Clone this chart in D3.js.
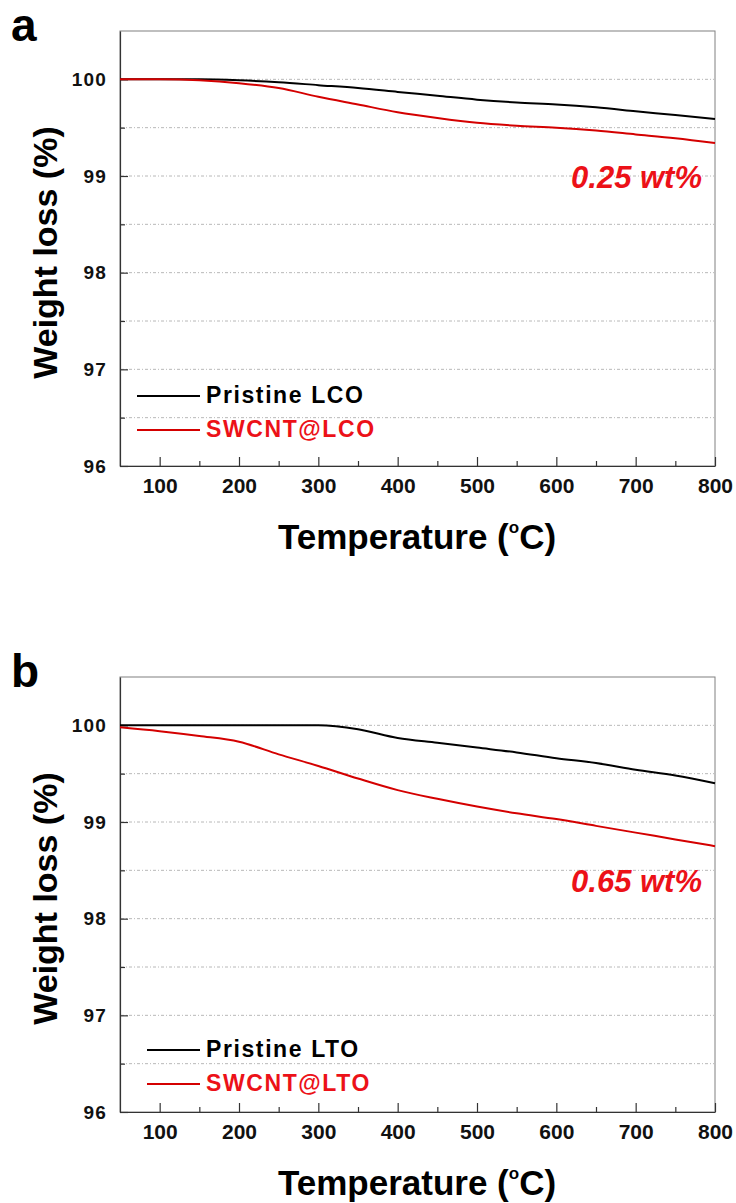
<!DOCTYPE html>
<html>
<head>
<meta charset="utf-8">
<script src="https://cdn.jsdelivr.net/npm/d3@7"></script>
<style>
  body { margin: 0; background: #fff; }
  text { font-family: "Liberation Sans", Arial, sans-serif; font-weight: bold; }
</style>
</head>
<body>
<svg id="chart" width="736" height="1203"></svg>
<script>
// temperature grid (°C) the curves were read at
const temps = [50, 100, 150, 200, 250, 300, 350, 400, 450, 500, 550, 600, 650, 700, 750, 800];

// panel a: LCO
const lcoPristine = [100, 100, 100, 99.99, 99.97, 99.94, 99.91, 99.87, 99.83, 99.79, 99.76, 99.74, 99.71, 99.67, 99.63, 99.59];
const lcoSwcnt    = [100, 100, 99.99, 99.96, 99.91, 99.82, 99.74, 99.66, 99.60, 99.55, 99.52, 99.50, 99.47, 99.43, 99.39, 99.34];

// panel b: LTO
const ltoPristine = [100, 100, 100, 100, 100, 100, 99.96, 99.87, 99.82, 99.77, 99.72, 99.66, 99.61, 99.54, 99.48, 99.40];
const ltoSwcnt    = [99.98, 99.94, 99.89, 99.83, 99.70, 99.58, 99.45, 99.33, 99.24, 99.16, 99.09, 99.03, 98.96, 98.89, 98.82, 98.75];

const xTicks = [100, 200, 300, 400, 500, 600, 700, 800];
const xMinor = [150, 250, 350, 450, 550, 650, 750];
const yTicks = [96, 97, 98, 99, 100];
const yMinor = [96.5, 97.5, 98.5, 99.5];
const gridValues = [96.5, 97, 97.5, 98, 98.5, 99, 99.5, 100];

const black = '#000';
const red = '#d40000';
const textRed = '#ec1118';

const svg = d3.select('#chart');

function drawPanel (cfg) {
  const top = cfg.top;
  const bottom = cfg.top + 435;
  const left = 120;
  const right = 715;

  const x = d3.scaleLinear().domain([50, 800]).range([left, right]);
  const y = d3.scaleLinear().domain([96, 100.5]).range([bottom, top]);

  const g = svg.append('g');

  // dotted grid
  g.append('g')
    .selectAll('line')
    .data(gridValues)
    .enter().append('line')
      .attr('x1', left + 1)
      .attr('x2', right - 1)
      .attr('y1', d => y(d))
      .attr('y2', d => y(d))
      .attr('stroke', '#b8b8b8')
      .attr('stroke-width', 1)
      .attr('stroke-dasharray', '3,2,1,2');

  // frame
  g.append('rect')
    .attr('x', left)
    .attr('y', top)
    .attr('width', right - left)
    .attr('height', bottom - top)
    .attr('fill', 'none')
    .attr('stroke', '#808080')
    .attr('stroke-width', 1);

  // x axis
  const xAxis = g.append('g')
    .attr('transform', 'translate(0,' + bottom + ')')
    .call(d3.axisBottom(x).tickValues(xTicks).tickSize(-9).tickSizeOuter(0).tickPadding(12).tickFormat(d3.format('d')));
  g.append('g')
    .attr('transform', 'translate(0,' + bottom + ')')
    .call(d3.axisBottom(x).tickValues(xMinor).tickSize(-5).tickSizeOuter(0).tickFormat(''))
    .select('.domain').remove();

  // y axis
  const yAxis = g.append('g')
    .attr('transform', 'translate(' + left + ',0)')
    .call(d3.axisLeft(y).tickValues(yTicks).tickSize(-8).tickSizeOuter(0).tickPadding(13).tickFormat(d3.format('d')));
  g.append('g')
    .attr('transform', 'translate(' + left + ',0)')
    .call(d3.axisLeft(y).tickValues(yMinor).tickSize(-5).tickSizeOuter(0).tickFormat(''))
    .select('.domain').remove();

  g.selectAll('.domain').attr('stroke', '#333').attr('stroke-width', 1.2);
  g.selectAll('.tick line').attr('stroke', '#333').attr('stroke-width', 1.2);

  xAxis.selectAll('text')
    .attr('font-size', 21)
    .attr('fill', '#111');
  yAxis.selectAll('text')
    .attr('font-size', 19)
    .attr('letter-spacing', 1.2)
    .attr('fill', '#111');

  // curves
  const line = d3.line()
    .x((d, i) => x(temps[i]))
    .y(d => y(d))
    .curve(d3.curveMonotoneX);

  g.append('path')
    .attr('d', line(cfg.pristine))
    .attr('fill', 'none')
    .attr('stroke', black)
    .attr('stroke-width', 2);

  g.append('path')
    .attr('d', line(cfg.swcnt))
    .attr('fill', 'none')
    .attr('stroke', red)
    .attr('stroke-width', 2);

  // legend
  const legend = [
    {label: cfg.names[0], color: black, text: '#000', y: cfg.legendY[0]},
    {label: cfg.names[1], color: red, text: textRed, y: cfg.legendY[1]}
  ];
  legend.forEach(d => {
    g.append('line')
      .attr('x1', cfg.legendX)
      .attr('x2', 200)
      .attr('y1', d.y)
      .attr('y2', d.y)
      .attr('stroke', d.color)
      .attr('stroke-width', 2);
    g.append('text')
      .attr('x', 206)
      .attr('y', d.y + 7)
      .attr('font-size', 23)
      .attr('letter-spacing', 1.6)
      .attr('fill', d.text)
      .text(d.label);
  });

  // loss annotation
  g.append('text')
    .attr('x', 702)
    .attr('y', cfg.noteY)
    .attr('text-anchor', 'end')
    .attr('font-size', 31)
    .attr('font-style', 'italic')
    .attr('fill', textRed)
    .text(cfg.note);

  // axis titles
  g.append('text')
    .attr('transform', 'translate(57,' + ((top + bottom) / 2 + 4) + ') rotate(-90)')
    .attr('text-anchor', 'middle')
    .attr('font-size', 34)
    .attr('fill', '#000')
    .text('Weight loss (%)');

  const xt = g.append('text')
    .attr('x', 417)
    .attr('y', bottom + 83)
    .attr('text-anchor', 'middle')
    .attr('font-size', 35)
    .attr('fill', '#000');
  xt.append('tspan').text('Temperature (');
  xt.append('tspan').attr('font-size', 17).attr('dy', -16).text('o');
  xt.append('tspan').attr('dy', 16).text('C)');

  // panel letter
  g.append('text')
    .attr('x', 11)
    .attr('y', cfg.top + cfg.letterDy)
    .attr('font-size', 46)
    .attr('fill', '#000')
    .text(cfg.letter);
}

drawPanel({
  top: 31,
  letter: 'a',
  letterDy: 10,
  pristine: lcoPristine,
  swcnt: lcoSwcnt,
  names: ['Pristine LCO', 'SWCNT@LCO'],
  legendX: 137,
  legendY: [396, 430],
  note: '0.25 wt%',
  noteY: 188
});

drawPanel({
  top: 677,
  letter: 'b',
  letterDy: 10,
  pristine: ltoPristine,
  swcnt: ltoSwcnt,
  names: ['Pristine LTO', 'SWCNT@LTO'],
  legendX: 147,
  legendY: [1050, 1084],
  note: '0.65 wt%',
  noteY: 892
});
</script>
</body>
</html>
